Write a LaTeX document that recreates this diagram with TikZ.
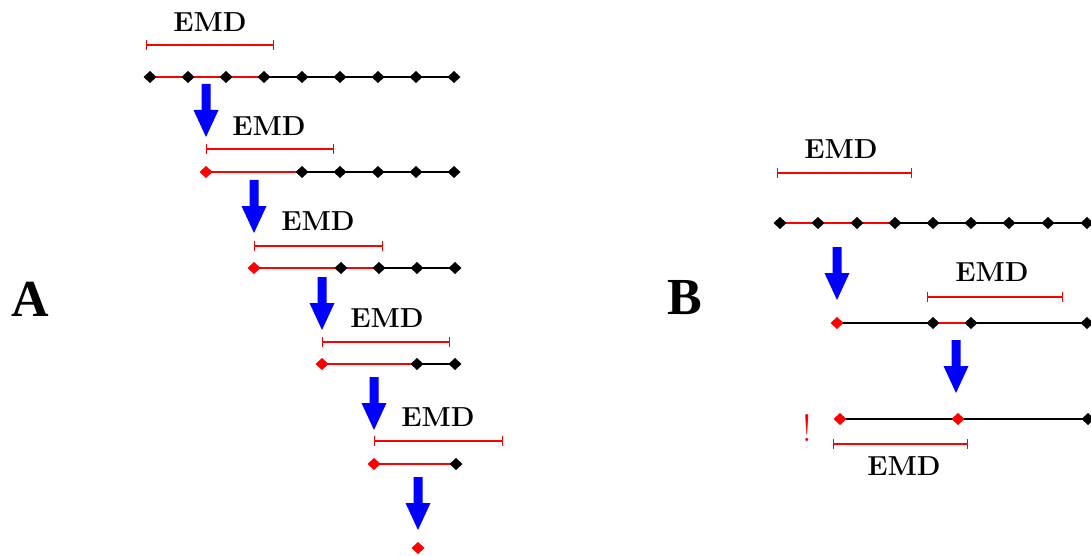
\documentclass[tikz,border=0pt]{standalone}
\usepackage{fontspec}
\newfontfamily\timesfont{Liberation Serif}
\usetikzlibrary{shapes.geometric,arrows.meta,backgrounds}
\begin{document}
\begin{tikzpicture}[x=1pt,y=-1pt,
  pt/.style={diamond,fill=black,inner sep=0pt,outer sep=0pt,minimum width=13pt,minimum height=12pt},
  rpt/.style={pt,fill=red},
  bl/.style={line width=1.8pt,black},
  rl/.style={line width=1.8pt,red},
  emdbar/.style={red,line width=1.4pt,{Bar[width=10pt]}-{Bar[width=10pt]}},
  lbl/.style={font=\bfseries\fontsize{27.5}{28}\selectfont,inner sep=0pt},
  big/.style={font=\timesfont\bfseries\fontsize{52}{52}\selectfont,inner sep=0pt},
  dnarrow/.pic={\fill[blue] (-4.5,0) -- (4.5,0) -- (4.5,26) -- (12.5,26) -- (0,53) -- (-12.5,26) -- (-4.5,26) -- cycle;}]
\useasboundingbox (0,0) rectangle (1091,556);

% ---------------- Panel A ----------------
\node[big] (A) at (30,299) {A};

% row 1
\foreach \i/\x in {1/150,2/188,3/226,4/264,5/302,6/340,7/378,8/416,9/454}
  \node[pt] (a1\i) at (\x,77) {};
\begin{scope}[on background layer]
\draw[rl] (a11.center) -- (a14.center);
\draw[bl] (a14.center) -- (a19.center);
\end{scope}
\draw[emdbar] (146,45) -- (274,45);
\node[lbl] (e1) at (210,22) {EMD};
\pic at (206,84) {dnarrow};

% row 2
\node[rpt] (a20) at (206,172) {};
\foreach \i/\x in {5/302,6/340,7/378,8/416,9/454}
  \node[pt] (a2\i) at (\x,172) {};
\begin{scope}[on background layer]
\draw[rl] (a20.center) -- (a25.center);
\draw[bl] (a25.center) -- (a29.center);
\end{scope}
\draw[emdbar] (206,149) -- (334,149);
\node[lbl] (e2) at (269,126) {EMD};
\pic at (254,180) {dnarrow};

% row 3
\node[rpt] (a30) at (254,268) {};
\foreach \i/\x in {6/341,7/379,8/417,9/455}
  \node[pt] (a3\i) at (\x,268) {};
\begin{scope}[on background layer]
\draw[rl] (a30.center) -- (a37.center);
\draw[bl] (a37.center) -- (a39.center);
\end{scope}
\draw[emdbar] (254,246) -- (383,246);
\node[lbl] (e3) at (318,221) {EMD};
\pic at (322,277) {dnarrow};

% row 4
\node[rpt] (a40) at (322,364) {};
\foreach \i/\x in {8/417,9/455}
  \node[pt] (a4\i) at (\x,364) {};
\begin{scope}[on background layer]
\draw[rl] (a40.center) -- (a48.center);
\draw[bl] (a48.center) -- (a49.center);
\end{scope}
\draw[emdbar] (322,342) -- (450,342);
\node[lbl] (e4) at (387,318) {EMD};
\pic at (374,377) {dnarrow};

% row 5
\node[rpt] (a50) at (374,464) {};
\node[pt] (a59) at (456,464) {};
\begin{scope}[on background layer]
\draw[rl] (a50.center) -- (a59.center);
\end{scope}
\draw[emdbar] (374,441) -- (503,441);
\node[lbl] (e5) at (438,417) {EMD};
\pic at (418,477) {dnarrow};

% row 6
\node[rpt] (a60) at (418,548) {};

% ---------------- Panel B ----------------
\node[big] (B) at (685,298) {B};

% row 1
\foreach \i/\x in {1/780,2/818,3/857,4/895,5/933,6/971,7/1009,8/1048,9/1087}
  \node[pt] (b1\i) at (\x,223) {};
\begin{scope}[on background layer]
\draw[rl] (b11.center) -- (b14.center);
\draw[bl] (b14.center) -- (b19.center);
\end{scope}
\draw[emdbar] (777,173) -- (912,173);
\node[lbl] (f1) at (841,149) {EMD};
\pic at (837,247) {dnarrow};

% row 2
\node[rpt] (b20) at (837,323) {};
\node[pt] (b25) at (933,323) {};
\node[pt] (b26) at (971,323) {};
\node[pt] (b29) at (1087,323) {};
\begin{scope}[on background layer]
\draw[bl] (b20.center) -- (b25.center);
\draw[rl] (b25.center) -- (b26.center);
\draw[bl] (b26.center) -- (b29.center);
\end{scope}
\draw[emdbar] (927,297) -- (1063,297);
\node[lbl] (f2) at (992,272) {EMD};
\pic at (956,340) {dnarrow};

% row 3
\node[rpt] (b30) at (840,419) {};
\node[rpt] (b35) at (958,419) {};
\node[pt] (b39) at (1088,419) {};
\begin{scope}[on background layer]
\draw[bl] (b30.center) -- (b35.center);
\draw[bl] (b35.center) -- (b39.center);
\end{scope}
\draw[emdbar] (833,444) -- (968,444);
\node[lbl] (f3) at (904,466) {EMD};
\node[red,font=\fontsize{38}{38}\selectfont,inner sep=0pt] (ex) at (807,428) {!};

\end{tikzpicture}
\end{document}
